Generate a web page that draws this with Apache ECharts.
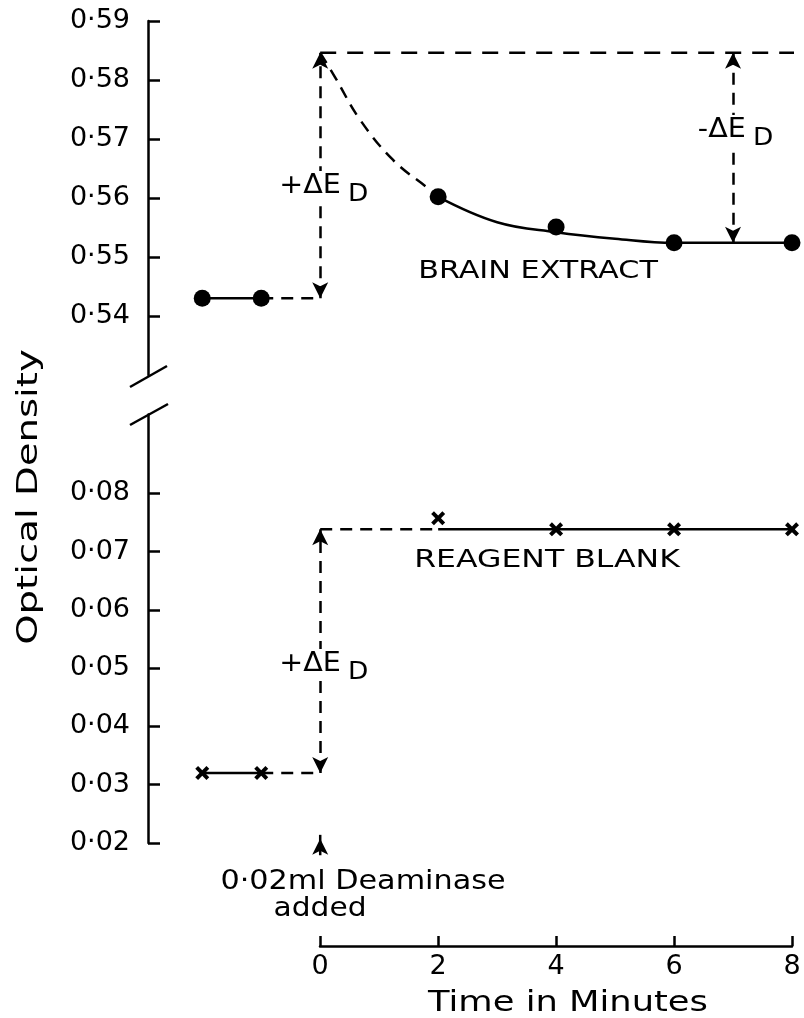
<!DOCTYPE html>
<html>
<head>
<meta charset="utf-8">
<script src="https://cdn.jsdelivr.net/npm/echarts@6/dist/echarts.min.js"></script>
<style>html,body{margin:0;background:#fff}#chart{width:804px;height:1018px}</style>
</head>
<body>
<div id="chart"></div>
<script>
// readings taken off the figure
var timeBefore = [-2, -1];
var timeAfter = [2, 4, 6, 8];
var brainBefore = [0.543, 0.543];
var brainAfter = [0.5602, 0.5551, 0.5524, 0.5524];
var blankBefore = [0.032, 0.032];
var blankAfter = [0.0757, 0.0738, 0.0738, 0.0738];

// hand drawn curve through the brain extract points
var curveDashT = [0, 0.25, 0.68, 1.24, 1.86, 2];
var curveDashV = [0.5846, 0.5805, 0.5732, 0.5664, 0.5614, 0.5602];
var curveSolidT = [2, 3, 4, 5, 6, 8];
var curveSolidV = [0.5602, 0.5559, 0.5542, 0.5531, 0.5524, 0.5524];

var brainPeak = 0.5846;
var brainEnd = 0.5524;
var blankLevel = 0.0738;
var addTime = 0;
var minusTime = 7;
var topLineEnd = 8.14;
var addArrow = [0.0179, 0.0214];

var topTicks = [0.54, 0.55, 0.56, 0.57, 0.58, 0.59];
var bottomTicks = [0.02, 0.03, 0.04, 0.05, 0.06, 0.07, 0.08];
var timeTicks = [0, 2, 4, 6, 8];

var font = 'DejaVu Sans';
var black = '#000';

function zip(a, b) {
  return a.map(function (v, i) { return [v, b[i]]; });
}
function fmt(v) {
  return v.toFixed(2).replace('.', '\u00b7');
}

var dash = [12, 8];
var lw = 2.5;
var xMark = 'path://M0,2L2,0L5,3L8,0L10,2L7,5L10,8L8,10L5,7L2,10L0,8L3,5Z';

function lineSeries(idx, data, type, smooth) {
  return {
    type: 'line', xAxisIndex: idx, yAxisIndex: idx, data: data,
    symbol: 'none', smooth: smooth || false, silent: true, clip: false,
    lineStyle: { color: black, width: lw, type: type }
  };
}
function arrows(idx, lines) {
  return {
    type: 'line', xAxisIndex: idx, yAxisIndex: idx, data: [], clip: false, silent: true,
    markLine: {
      silent: true, animation: false,
      symbolSize: [12, 16],
      label: { show: false },
      lineStyle: { color: black, width: lw, type: dash },
      data: lines
    }
  };
}
function label(x, y, main, sub) {
  return [
    { type: 'text', x: x, y: y, z: 100, scaleX: 1.1,
      style: { text: main, font: '26px "DejaVu Sans"', fill: black, align: 'right', verticalAlign: 'middle',
        backgroundColor: '#fff', padding: [2, 2, 2, 4] } },
    { type: 'text', x: x + 4, y: y + 9, z: 100, scaleX: 1.1,
      style: { text: sub, font: '24px "DejaVu Sans"', fill: black, align: 'left', verticalAlign: 'middle',
        backgroundColor: '#fff', padding: [0, 2, 0, 1] } }
  ];
}

var chart = echarts.init(document.getElementById('chart'));

var yAxisBase = {
  type: 'value',
  interval: 0.01,
  splitLine: { show: false },
  axisLine: { show: true, onZero: false, lineStyle: { color: black, width: lw } },
  axisTick: { inside: true, length: 12, lineStyle: { color: black, width: lw } },
  axisLabel: { color: black, fontFamily: font, fontSize: 27, margin: 18, formatter: fmt }
};

var option = {
  animation: false,
  backgroundColor: '#fff',
  grid: [
    { left: 148, right: 12, top: 21, height: 354 },
    { left: 148, right: 12, top: 414.5, height: 428.5 },
    { left: 320, right: 12, top: 936, height: 10 }
  ],
  xAxis: [
    { gridIndex: 0, type: 'value', min: -2.92, max: 8, show: false },
    { gridIndex: 1, type: 'value', min: -2.92, max: 8, show: false },
    {
      gridIndex: 2, type: 'value', min: 0, max: 8, interval: 2,
      splitLine: { show: false },
      axisLine: { lineStyle: { color: black, width: lw } },
      axisTick: { inside: true, length: 10, lineStyle: { color: black, width: lw } },
      axisLabel: { color: black, fontFamily: font, fontSize: 27, margin: 7,
        customValues: timeTicks }
    }
  ],
  yAxis: [
    echarts.util.merge({ gridIndex: 0, min: 0.53, max: 0.59,
      axisTick: { customValues: topTicks }, axisLabel: { customValues: topTicks } }, yAxisBase),
    echarts.util.merge({ gridIndex: 1, min: 0.02, max: 0.0935,
      axisTick: { customValues: bottomTicks }, axisLabel: { customValues: bottomTicks } }, yAxisBase),
    { gridIndex: 2, type: 'value', show: false }
  ],
  series: [
    // brain extract
    lineSeries(0, zip(timeBefore, brainBefore), 'solid'),
    lineSeries(0, [[timeBefore[1], brainBefore[1]], [addTime, brainBefore[1]]], dash),
    lineSeries(0, [[addTime, brainPeak], [topLineEnd, brainPeak]], [16, 11]),
    lineSeries(0, zip(curveDashT, curveDashV), dash, 0.4),
    lineSeries(0, zip(curveSolidT, curveSolidV), 'solid', 0.4),
    {
      type: 'scatter', xAxisIndex: 0, yAxisIndex: 0, silent: true,
      data: zip(timeBefore, brainBefore).concat(zip(timeAfter, brainAfter)),
      symbol: 'circle', symbolSize: 17, itemStyle: { color: black, opacity: 1 }
    },
    arrows(0, [
      [{ coord: [addTime, brainBefore[1]], symbol: 'arrow' }, { coord: [addTime, brainPeak], symbol: 'arrow' }],
      [{ coord: [minusTime, brainPeak], symbol: 'arrow' }, { coord: [minusTime, brainEnd], symbol: 'arrow' }]
    ]),
    // reagent blank
    lineSeries(1, zip(timeBefore, blankBefore), 'solid'),
    lineSeries(1, [[timeBefore[1], blankBefore[1]], [addTime, blankBefore[1]]], dash),
    lineSeries(1, [[addTime, blankLevel], [timeAfter[0], blankLevel]], dash),
    lineSeries(1, [[timeAfter[0], blankLevel], [timeAfter[3], blankLevel]], 'solid'),
    {
      type: 'scatter', xAxisIndex: 1, yAxisIndex: 1, silent: true, z: 5,
      data: zip(timeBefore, blankBefore).concat(zip(timeAfter, blankAfter)),
      symbol: xMark, symbolSize: 14, itemStyle: { color: black, opacity: 1 }
    },
    arrows(1, [
      [{ coord: [addTime, blankBefore[1]], symbol: 'arrow' }, { coord: [addTime, blankLevel], symbol: 'arrow' }]
    ]),
    // deaminase added arrow
    {
      type: 'line', xAxisIndex: 1, yAxisIndex: 1, clip: false, silent: true,
      lineStyle: { color: black, width: lw },
      itemStyle: { color: black, borderWidth: 0 },
      data: [
        { value: [addTime, addArrow[0]], symbol: 'none' },
        { value: [addTime, addArrow[1]], symbol: 'arrow', symbolSize: [12, 16], symbolOffset: [0, 4] }
      ]
    }
  ],
  graphic: [
    // axis break marks
    { type: 'line', shape: { x1: 130, y1: 387, x2: 167, y2: 366 }, style: { stroke: black, lineWidth: lw } },
    { type: 'line', shape: { x1: 130, y1: 425, x2: 168, y2: 404 }, style: { stroke: black, lineWidth: lw } },
    { type: 'text', x: 30, y: 497, rotation: Math.PI / 2, scaleX: 1.38,
      style: { text: 'Optical Density', font: '28px "DejaVu Sans"', fill: black, align: 'center', verticalAlign: 'middle' } },
    { type: 'text', x: 568, y: 1004, scaleX: 1.26,
      style: { text: 'Time in Minutes', font: '28px "DejaVu Sans"', fill: black, align: 'center', verticalAlign: 'middle' } },
    { type: 'text', x: 538, y: 271, scaleX: 1.21,
      style: { text: 'BRAIN EXTRACT', font: '25px "DejaVu Sans"', fill: black, align: 'center', verticalAlign: 'middle' } },
    { type: 'text', x: 547, y: 560, scaleX: 1.26,
      style: { text: 'REAGENT BLANK', font: '25px "DejaVu Sans"', fill: black, align: 'center', verticalAlign: 'middle' } },
    { type: 'text', x: 363, y: 882, scaleX: 1.12,
      style: { text: '0\u00b702ml Deaminase', font: '27px "DejaVu Sans"', fill: black, align: 'center', verticalAlign: 'middle' } },
    { type: 'text', x: 320, y: 909, scaleX: 1.1,
      style: { text: 'added', font: '27px "DejaVu Sans"', fill: black, align: 'center', verticalAlign: 'middle' } }
  ].concat(label(343, 186, '+\u0394E', 'D'))
   .concat(label(343, 664, '+\u0394E', 'D'))
   .concat(label(748, 130, '-\u0394E', 'D'))
};

chart.setOption(option);
</script>
</body>
</html>
